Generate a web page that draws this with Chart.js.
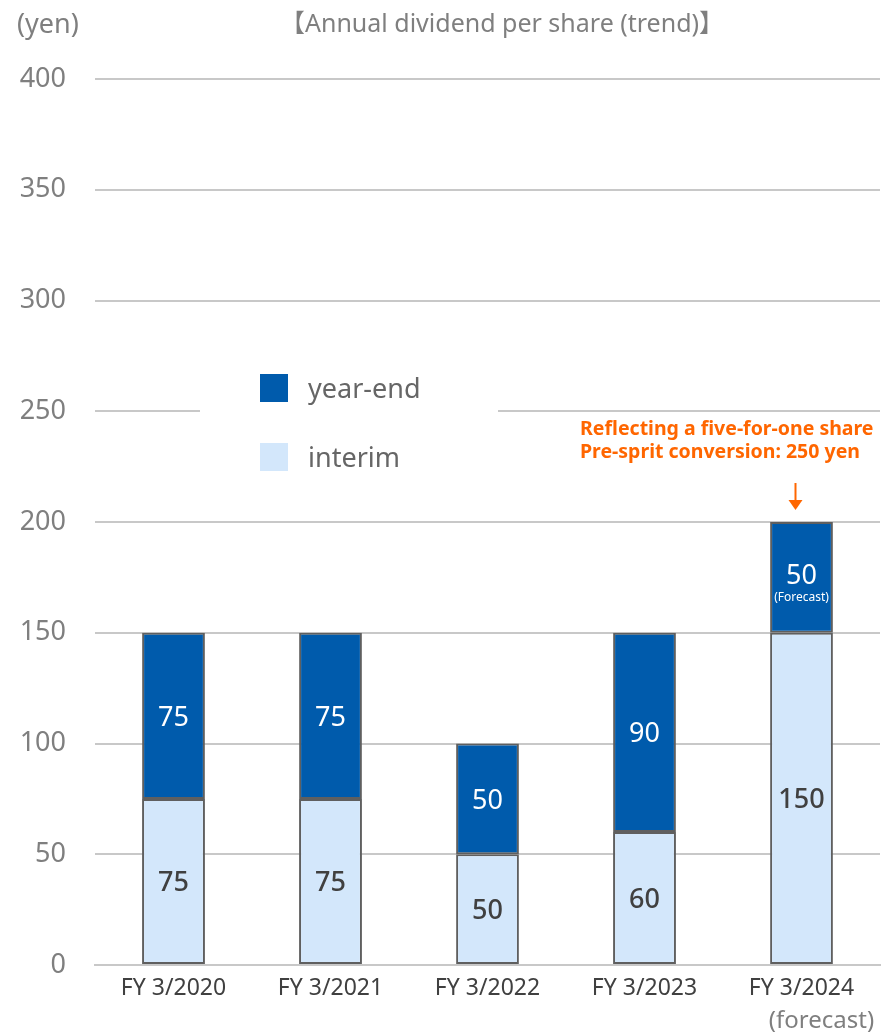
<!DOCTYPE html>
<html>
<head>
<meta charset="utf-8">
<script src="https://cdn.jsdelivr.net/npm/chart.js@4"></script>
<style>
  html, body { margin: 0; padding: 0; background: #fff; }
  #wrap { width: 883px; height: 1033px; position: relative; }
</style>
</head>
<body>
<div id="wrap"><canvas id="chart"></canvas></div>
<script>
const FONT = '"Noto Sans", "Noto Sans CJK JP", sans-serif';

// data
const years = ['FY 3/2020', 'FY 3/2021', 'FY 3/2022', 'FY 3/2023', 'FY 3/2024'];
const interim = [75, 75, 50, 60, 150];
const yearEnd = [75, 75, 50, 90, 50];
const yTicks = [0, 50, 100, 150, 200, 250, 300, 350, 400];

const titleText = '【Annual dividend per share (trend)】';
const unitText = '(yen)';
const noteLines = ['Reflecting a five-for-one share', 'Pre-sprit conversion: 250 yen'];

const darkBlue = '#005bac';
const lightBlue = '#d3e7fb';
const edge = '#5f5f5f';

// extra text: title, unit, legend box, bar labels, annotation
const extras = {
    id: 'extras',
    afterDatasetsDraw(chart) {
        const ctx = chart.ctx;
        const x = chart.scales.x;
        const y = chart.scales.y;
        ctx.save();

        // title + unit
        ctx.fillStyle = '#7f7f7f';
        ctx.textBaseline = 'middle';
        ctx.font = '27px ' + FONT;
        ctx.textAlign = 'left';
        ctx.fillText(unitText, 17, 25);
        ctx.font = '25px ' + FONT;
        ctx.textAlign = 'center';
        ctx.fillText(titleText, 502, 25);

        // legend (white box hides the grid line behind it)
        ctx.fillStyle = '#fff';
        ctx.fillRect(200, 360, 298, 125);
        const legend = [['year-end', darkBlue], ['interim', lightBlue]];
        legend.forEach((item, i) => {
            const ly = 388 + i * 69;
            ctx.fillStyle = item[1];
            ctx.fillRect(260, ly - 14, 28, 28);
            ctx.fillStyle = '#666';
            ctx.font = '27px ' + FONT;
            ctx.textAlign = 'left';
            ctx.fillText(item[0], 308, ly + 2);
        });

        // values inside the bars
        const sets = [
            { meta: chart.getDatasetMeta(0), vals: interim, color: '#404040', weight: '500' },
            { meta: chart.getDatasetMeta(1), vals: yearEnd, color: '#ffffff', weight: '400' }
        ];
        sets.forEach(s => {
            s.meta.data.forEach((bar, i) => {
                const cy = (bar.y + bar.base) / 2;
                ctx.fillStyle = s.color;
                ctx.textAlign = 'center';
                ctx.font = s.weight + ' 27px ' + FONT;
                const last = s.color === '#ffffff' && i === years.length - 1;
                ctx.fillText(String(s.vals[i]), bar.x, last ? cy - 1 : cy + 2);
                if (last) {
                    ctx.font = '12px ' + FONT;
                    ctx.fillText('(Forecast)', bar.x, cy + 20);
                }
            });
        });

        // note over the forecast bar
        ctx.fillStyle = '#ff6600';
        ctx.font = 'bold 19.5px ' + FONT;
        ctx.textAlign = 'left';
        ctx.fillText(noteLines[0], 580, 429);
        ctx.fillText(noteLines[1], 580, 452);

        const ax = x.getPixelForValue(years.length - 1) - 6;
        const top = y.getPixelForValue(yearEnd[4] + interim[4]);
        ctx.strokeStyle = '#ff6600';
        ctx.lineWidth = 2;
        ctx.beginPath();
        ctx.moveTo(ax, 483);
        ctx.lineTo(ax, top - 20);
        ctx.stroke();
        ctx.fillStyle = '#ff6600';
        ctx.beginPath();
        ctx.moveTo(ax - 7, top - 22);
        ctx.lineTo(ax + 7, top - 22);
        ctx.lineTo(ax, top - 12);
        ctx.closePath();
        ctx.fill();

        // second line under the last category
        ctx.fillStyle = '#7f7f7f';
        ctx.font = '24px ' + FONT;
        ctx.textAlign = 'center';
        ctx.fillText('(forecast)', x.getPixelForValue(years.length - 1) + 20, 1021);

        ctx.restore();
    }
};

new Chart(document.getElementById('chart'), {
    type: 'bar',
    data: {
        labels: years,
        datasets: [
            {
                label: 'interim',
                data: interim,
                backgroundColor: lightBlue,
                borderColor: edge,
                borderWidth: 2,
                borderSkipped: false,
                barPercentage: 0.4,
                categoryPercentage: 1
            },
            {
                label: 'year-end',
                data: yearEnd,
                backgroundColor: darkBlue,
                borderColor: edge,
                borderWidth: 2,
                borderSkipped: false,
                barPercentage: 0.4,
                categoryPercentage: 1
            }
        ]
    },
    options: {
        responsive: true,
        maintainAspectRatio: false,
        animation: false,
        layout: { padding: { top: 79, right: 3, left: 0, bottom: 0 } },
        plugins: {
            legend: { display: false },
            tooltip: { enabled: false }
        },
        scales: {
            x: {
                stacked: true,
                grid: { display: false, drawTicks: false },
                border: { display: true, color: '#c8c8c8', width: 2 },
                ticks: {
                    color: '#404040',
                    font: { family: FONT, size: 23 },
                    padding: 10,
                    maxRotation: 0
                },
                afterFit(scale) { scale.height = 68; }
            },
            y: {
                stacked: true,
                min: 0,
                max: 400,
                afterBuildTicks(scale) { scale.ticks = yTicks.map(v => ({ value: v })); },
                grid: { color: '#c8c8c8', lineWidth: 2, drawTicks: false },
                border: { display: false },
                ticks: {
                    color: '#7f7f7f',
                    font: { family: FONT, size: 27 },
                    padding: 29
                },
                afterFit(scale) { scale.width = 95; }
            }
        }
    },
    plugins: [extras]
});
</script>
</body>
</html>
